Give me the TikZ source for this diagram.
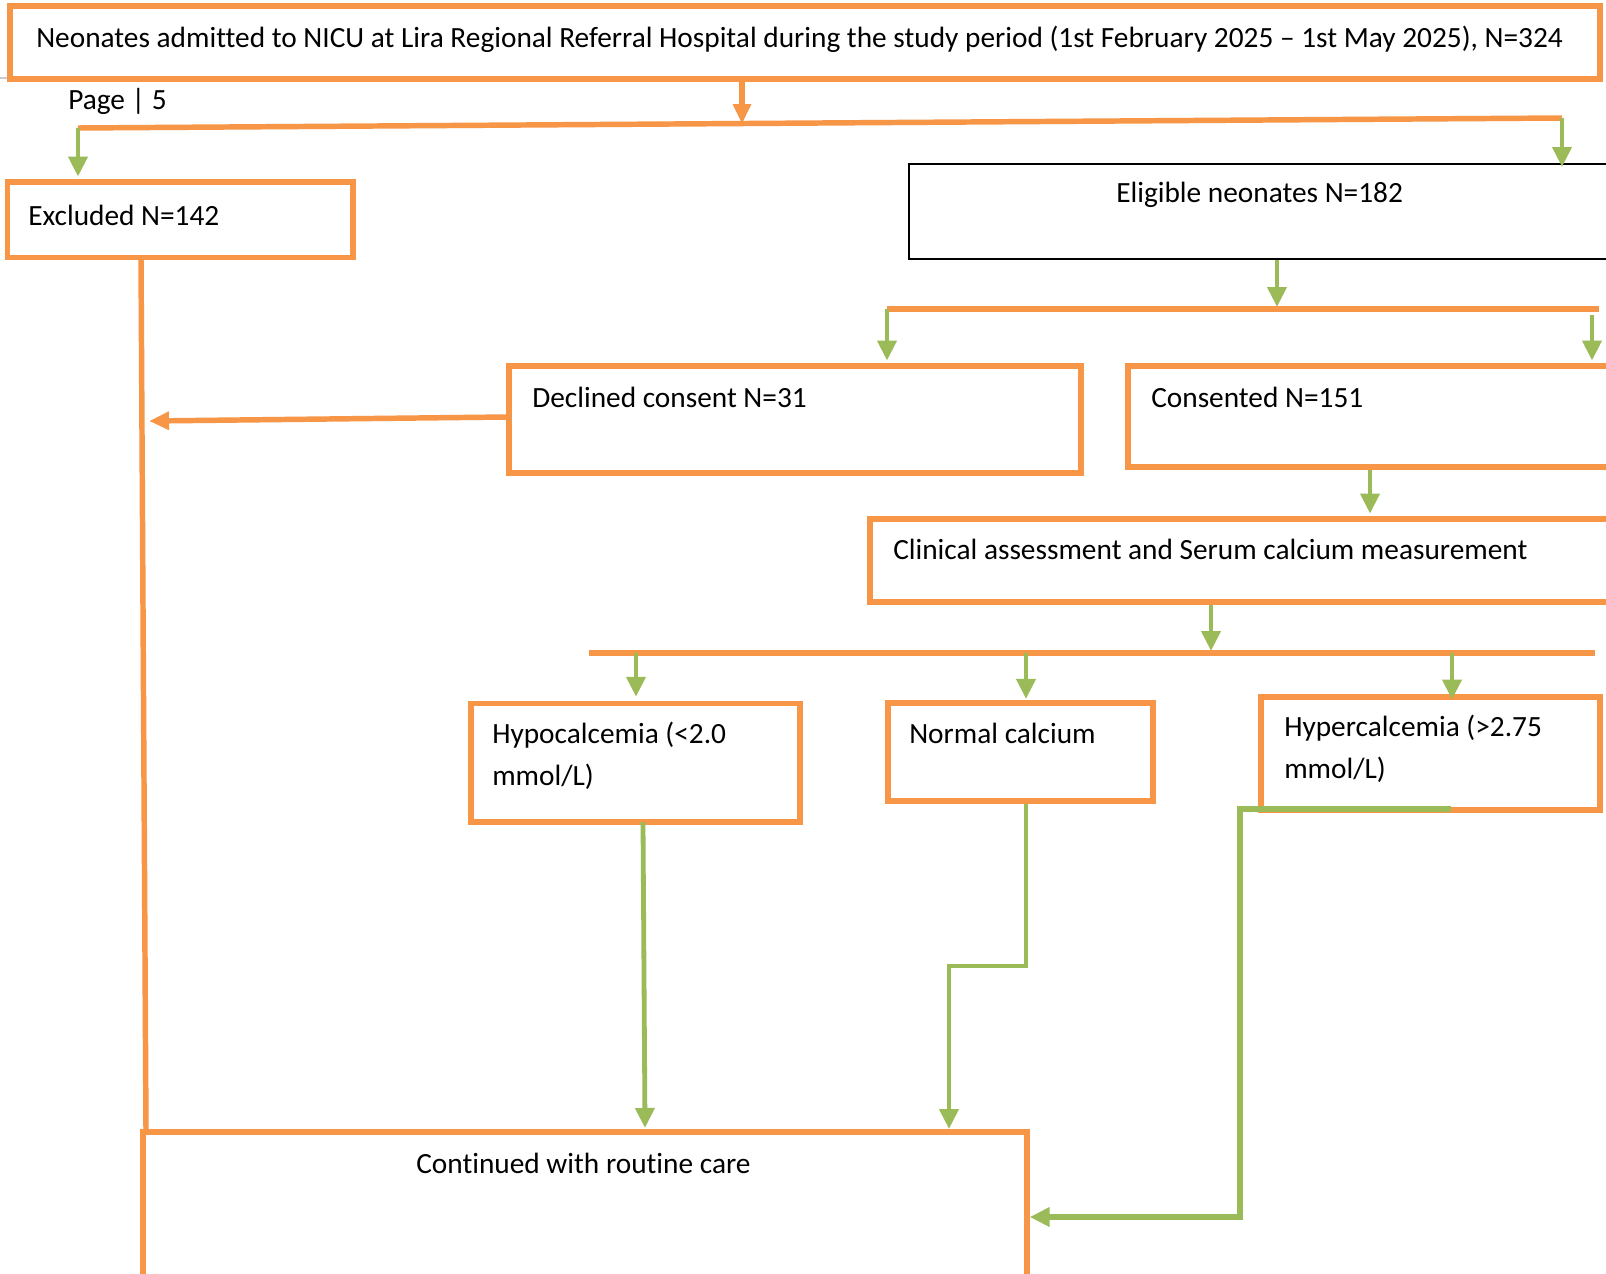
\documentclass[tikz,border=0pt]{standalone}
\usepackage{fontspec}
\setmainfont{Carlito}[Ligatures=NoCommon]
\usetikzlibrary{arrows.meta,fit}
\definecolor{oline}{HTML}{F79646}
\definecolor{gline}{HTML}{9BBB59}
\begin{document}
\begin{tikzpicture}[x=0.75pt,y=-0.75pt,
  obox/.style={draw=oline,line width=4.1pt,inner sep=0pt},
  kbox/.style={draw=black,line width=1.5pt,inner sep=0pt},
  obar/.style={draw=oline,line width=4.1pt},
  oarr/.style={draw=oline,line width=4.1pt,-{Triangle[length=15pt,width=13pt]}},
  garr/.style={draw=gline,line width=3.6pt,-{Triangle[length=15pt,width=14pt]}},
  gline/.style={draw=gline,line width=3.6pt},
  txt/.style={font=\fontsize{22}{31.5}\selectfont,inner sep=0pt,anchor=base west,align=left}]
\useasboundingbox (0,0) rectangle (1606,1274);
\clip (0,0) rectangle (1606,1274);
\fill[white] (0,0) rectangle (1606,1274);
% page artefact line
\draw[gray!40,line width=1pt] (0,78) -- (10,78);
% box corners
\coordinate (topA) at (10,6);     \coordinate (topB) at (1600,79);
\coordinate (exA) at (7.5,182);   \coordinate (exB) at (353,257.5);
\coordinate (elA) at (909,164);   \coordinate (elB) at (1650,259);
\coordinate (deA) at (509,366);   \coordinate (deB) at (1081,473);
\coordinate (coA) at (1128,366);  \coordinate (coB) at (1650,467);
\coordinate (clA) at (870,519);   \coordinate (clB) at (1650,602);
\coordinate (hoA) at (471,703.5); \coordinate (hoB) at (800,822);
\coordinate (noA) at (888,703);   \coordinate (noB) at (1153,801);
\coordinate (heA) at (1261,697);  \coordinate (heB) at (1600,810);
\coordinate (cuA) at (143,1132);  \coordinate (cuB) at (1027,1330);
% boxes
\node[obox,fit=(topA)(topB)] (top) {};
\node[obox,fit=(exA)(exB)] (excl) {};
\node[kbox,fit=(elA)(elB)] (elig) {};
\node[obox,fit=(deA)(deB)] (decl) {};
\node[obox,fit=(coA)(coB)] (cons) {};
\node[obox,fit=(clA)(clB)] (clin) {};
\node[obox,fit=(hoA)(hoB)] (hypo) {};
\node[obox,fit=(noA)(noB)] (norm) {};
\node[obox,fit=(heA)(heB)] (hyper) {};
\node[obox,fit=(cuA)(cuB)] (cont) {};
% texts
\node[txt] (ttop) at (36,47) {Neonates admitted to NICU at Lira Regional Referral Hospital during the study period (1st February 2025 – 1st May 2025), N=324};
\node[txt] (tpage) at (68,109) {Page | 5};
\node[txt] (texcl) at (28,225) {Excluded N=142};
\node[txt] (telig) at (1116,202) {Eligible neonates N=182};
\node[txt] (tdecl) at (532,407) {Declined consent N=31};
\node[txt] (tcons) at (1151,407) {Consented N=151};
\node[txt] (tclin) at (893,559) {Clinical assessment and Serum calcium measurement};
\node[txt] (thypo) at (492,785) {Hypocalcemia (<2.0\\mmol/L)};
\node[txt] (tnorm) at (909,743) {Normal calcium};
\node[txt] (thyper) at (1284,778) {Hypercalcemia (>2.75\\mmol/L)};
\node[txt] (tcont) at (416,1173) {Continued with routine care};
% bar 1
\coordinate (b1L) at (78,128);
\coordinate (b1M) at (742,124);
\coordinate (b1R) at (1562,118);
\draw[oarr] (top.south -| b1M) -- (b1M);
\draw[obar] (b1L) -- (b1R);
\draw[garr,shorten >=2pt] (b1L) -- (excl.north -| b1L);
\draw[garr] (b1R) -- ([yshift=-3pt]elig.north -| b1R);
% bar 2
\coordinate (b2M) at (1277,307);
\coordinate (b2L) at (887,309);
\coordinate (b2R) at (1599,309);
\coordinate (b2r) at (1592,315);
\draw[garr] (elig.south -| b2M) -- (b2M);
\draw[obar] (b2L) -- (b2R);
\draw[garr,shorten >=2pt] (b2L) -- (decl.north -| b2L);
\draw[garr,shorten >=2pt] (b2r) -- (cons.north -| b2r);
% consented -> clinical
\coordinate (cc) at (1370,517);
\draw[garr,shorten >=2pt] (cons.south -| cc) -- (clin.north -| cc);
% bar 3
\coordinate (b3M) at (1211,651);
\coordinate (b3L) at (589,653);
\coordinate (b3R) at (1595,653);
\coordinate (b3a) at (636,653);
\coordinate (b3b) at (1026,653);
\coordinate (b3c) at (1452,653);
\draw[garr] (clin.south -| b3M) -- (b3M);
\draw[obar] (b3L) -- (b3R);
\draw[garr,shorten >=3pt] (b3a) -- (hypo.north -| b3a);
\draw[garr,shorten >=1pt] (b3b) -- (norm.north -| b3b);
\draw[garr,shorten >=-4pt] (b3c) -- (hyper.north -| b3c);
% excluded line and declined arrow
\coordinate (exL) at (141,258);
\coordinate (exJ) at (149,421);
\coordinate (deJ) at (509,417);
\draw[obar] (exL) -- (cont.north -| 146,0);
\draw[oarr] (decl.west |- deJ) -- (exJ);
% outcomes to continued
\coordinate (hoX) at (643,822);
\coordinate (hoE) at (645,1128);
\draw[garr] (hoX) -- (hoE);
\coordinate (noK1) at (1026,966);
\coordinate (noK2) at (949,966);
\coordinate (noE) at (949,1129);
\draw[garr] (norm.south -| noK1) -- (noK1) -- (noK2) -- (noE);
\coordinate (heS) at (1451,809);
\coordinate (heK1) at (1240,809);
\coordinate (heK2) at (1240,1217);
\draw[garr,line width=4pt] (heS) -- (heK1) -- (heK2) -- (cont.east |- heK2);
\end{tikzpicture}
\end{document}
